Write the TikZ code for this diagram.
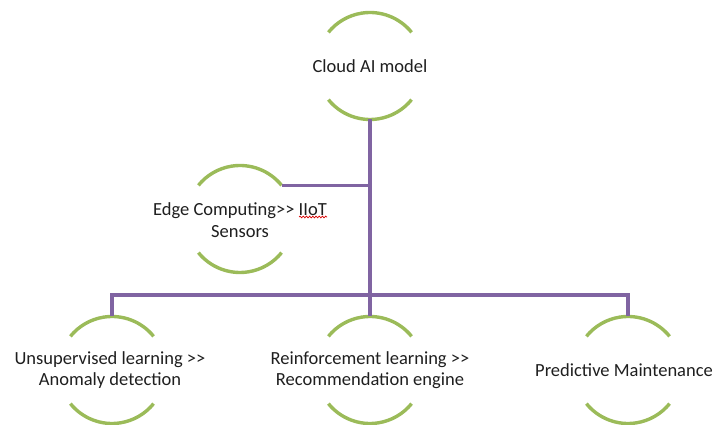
\documentclass[tikz,border=0pt]{standalone}
\usepackage{fontspec}
\setmainfont{Carlito}
\usetikzlibrary{decorations.pathmorphing}
\definecolor{ringgreen}{HTML}{9BBB59}
\definecolor{linkpurple}{HTML}{8064A2}
\begin{document}
\begin{tikzpicture}[x=1pt,y=1pt,
  ring/.style={circle,minimum size=107pt,inner sep=0pt,outer sep=0pt},
  arcline/.style={draw=ringgreen,line width=3.4pt},
  link/.style={draw=linkpurple,line width=3.2pt},
  label text/.style={align=center,font=\fontsize{18.5}{21.5}\selectfont,text=black!88,inner sep=0pt},
  squiggle/.style={draw=red!85!black,line width=0.7pt,decorate,decoration={snake,amplitude=0.9pt,segment length=3.2pt}}]
\useasboundingbox (0,0) rectangle (718,425);
\fill[white] (0,0) rectangle (718,425);

% ring positions
\node[ring] (cloud) at (370,359) {};
\node[ring] (edge) at (240,206) {};
\node[ring] (unsup) at (112,55) {};
\node[ring] (reinf) at (370,55) {};
\node[ring] (pred) at (628,55) {};

% arcs
\foreach \n in {cloud,edge,unsup,reinf,pred}{
  \draw[arcline] (\n.39) arc (39:141:53.5);
  \draw[arcline] (\n.-141) arc (-141:-39:53.5);
}

% texts
\node[label text] (cloud-t) at (cloud) {Cloud AI model};
\node[label text] (edge-t) at ([yshift=-1pt]edge.center) {Edge Computing>{}> IIoT\\Sensors};
\node[label text] (unsup-t) at ([xshift=-2pt]unsup.center) {Unsupervised learning >{}>\\Anomaly detection};
\node[label text] (reinf-t) at (reinf) {Reinforcement learning >{}>\\Recommendation engine};
\node[label text] (pred-t) at ([xshift=-4pt]pred.center) {Predictive Maintenance};

% spell-check squiggle under IIoT
\coordinate (sq-a) at ([xshift=-28pt,yshift=3pt]edge-t.east |- edge-t.center);
\coordinate (sq-b) at ([yshift=3pt]edge-t.east |- edge-t.center);
\draw[squiggle] (sq-a) -- (sq-b);

% connectors
\coordinate (hub) at (cloud.south |- edge.39);
\coordinate (bus) at (cloud.south |- 0,130);
\draw[link] (cloud.south) -- (bus);
\draw[link] (edge.39) -- (hub);
\draw[link] (unsup.north) -- (unsup.north |- bus) -- (pred.north |- bus) -- (pred.north);
\draw[link] (bus) -- (reinf.north);
\end{tikzpicture}
\end{document}
